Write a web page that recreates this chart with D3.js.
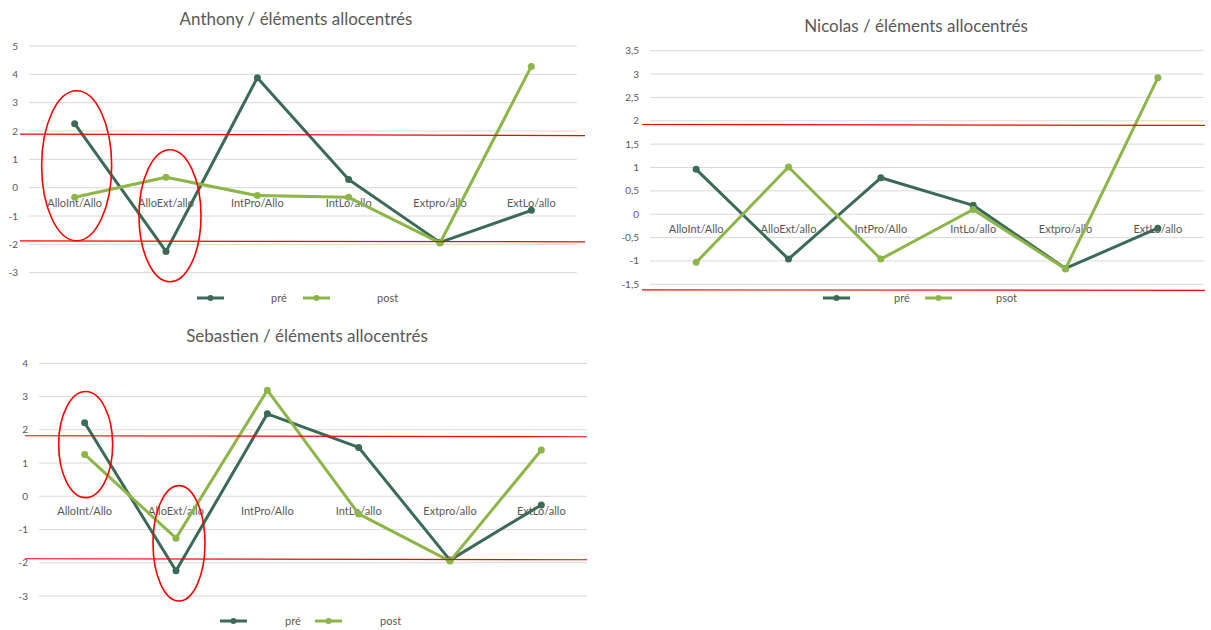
<!DOCTYPE html>
<html>
<head>
<meta charset="utf-8">
<script src="https://cdn.jsdelivr.net/npm/d3@7"></script>
<style>
  body { margin: 0; background: #fff; }
  text { font-family: Lato, "Open Sans", sans-serif; fill: #595959; }
</style>
</head>
<body>
<div id="graph"></div>
<script>
const width = 1211;
const height = 630;

// categories shared by the three charts
const categories = ["AlloInt/Allo", "AlloExt/allo", "IntPro/Allo", "IntLo/allo", "Extpro/allo", "ExtLo/allo"];

const anthonyPre = [2.26, -2.25, 3.88, 0.29, -1.93, -0.8];
const anthonyPost = [-0.34, 0.37, -0.28, -0.34, -1.95, 4.28];
const anthonyTicks = [-3, -2, -1, 0, 1, 2, 3, 4, 5];
const anthonyLegend = ["pré", "post"];
const anthonyRedLines = [[1.89, 1.84], [-1.88, -1.91]];   // hand drawn, left value / right value
const anthonyCircles = [[0, 3.42, -1.87], [1, 1.34, -3.32]]; // category index, top, bottom

const nicolasPre = [0.96, -0.96, 0.78, 0.19, -1.16, -0.3];
const nicolasPost = [-1.03, 1.01, -0.96, 0.1, -1.17, 2.92];
const nicolasTicks = [-1.5, -1, -0.5, 0, 0.5, 1, 1.5, 2, 2.5, 3, 3.5];
const nicolasLegend = ["pré", "psot"];
const nicolasRedLines = [[1.92, 1.90], [-1.62, -1.63]];
const nicolasCircles = [];

const sebastienPre = [2.21, -2.24, 2.48, 1.47, -1.92, -0.26];
const sebastienPost = [1.26, -1.26, 3.19, -0.53, -1.95, 1.39];
const sebastienTicks = [-3, -2, -1, 0, 1, 2, 3, 4];
const sebastienLegend = ["pré", "post"];
const sebastienRedLines = [[1.82, 1.79], [-1.88, -1.91]];
const sebastienCircles = [[0, 3.15, -0.04], [1, 0.32, -3.15]];

const preColor = "#3b6a56";
const postColor = "#8db548";

const svg = d3.select("#graph")
  .append("svg")
  .attr("width", width)
  .attr("height", height)
  .style("background", "#ffffff");

const fmt = v => String(v).replace(".", ",");

function drawChart(c) {
  const g = svg.append("g");

  const x = d3.scaleBand().domain(categories).range([c.x0, c.x1]);
  const y = d3.scaleLinear().domain(d3.extent(c.ticks)).range([c.yBottom, c.yTop]);
  const cx = d => x(d) + x.bandwidth() / 2;

  g.append("text")
    .attr("x", c.titleX)
    .attr("y", c.titleY)
    .attr("text-anchor", "middle")
    .style("font-size", "17px")
    .text(c.title);

  // gridlines + tick labels
  c.ticks.forEach(t => {
    g.append("line")
      .attr("x1", c.x0).attr("x2", c.x1)
      .attr("y1", y(t)).attr("y2", y(t))
      .attr("stroke", "#d9d9d9")
      .attr("stroke-width", 1);
    g.append("text")
      .attr("x", c.x0 - 11)
      .attr("y", y(t))
      .attr("dy", "0.35em")
      .attr("text-anchor", "end")
      .style("font-size", "10px")
      .text(fmt(t));
  });

  // category labels sit on the zero line
  categories.forEach(cat => {
    g.append("text")
      .attr("x", cx(cat))
      .attr("y", y(0) + 15)
      .attr("dy", "0.35em")
      .attr("text-anchor", "middle")
      .style("font-size", "11px")
      .text(cat);
  });

  const line = d3.line()
    .x((d, i) => cx(categories[i]))
    .y(d => y(d));

  [[c.pre, preColor], [c.post, postColor]].forEach(([vals, col]) => {
    g.append("path")
      .attr("d", line(vals))
      .attr("fill", "none")
      .attr("stroke", col)
      .attr("stroke-width", 3)
      .attr("stroke-linejoin", "round");
    g.selectAll(null)
      .data(vals)
      .enter()
      .append("circle")
      .attr("cx", (d, i) => cx(categories[i]))
      .attr("cy", d => y(d))
      .attr("r", 3.5)
      .attr("fill", col);
  });

  // red threshold lines drawn by hand on top
  c.redLines.forEach(([a, b]) => {
    g.append("line")
      .attr("x1", c.redX0).attr("x2", c.redX1)
      .attr("y1", y(a)).attr("y2", y(b))
      .attr("stroke", "#ff0000")
      .attr("stroke-width", 1.2);
  });

  c.circles.forEach(([ci, top, bottom]) => {
    g.append("ellipse")
      .attr("cx", cx(categories[ci]) + c.circleShift[ci])
      .attr("cy", (y(top) + y(bottom)) / 2)
      .attr("rx", c.circleRx[ci])
      .attr("ry", (y(bottom) - y(top)) / 2)
      .attr("fill", "none")
      .attr("stroke", "#ff0000")
      .attr("stroke-width", 1.6);
  });

  // legend
  [[c.legend[0], preColor, c.legX[0]], [c.legend[1], postColor, c.legX[1]]].forEach(([lab, col, lx]) => {
    g.append("line")
      .attr("x1", lx).attr("x2", lx + 27)
      .attr("y1", c.legY).attr("y2", c.legY)
      .attr("stroke", col)
      .attr("stroke-width", 3);
    g.append("circle")
      .attr("cx", lx + 13.5)
      .attr("cy", c.legY)
      .attr("r", 3)
      .attr("fill", col);
    g.append("text")
      .attr("x", lx + c.legText)
      .attr("y", c.legY)
      .attr("dy", "0.35em")
      .style("font-size", "11px")
      .text(lab);
  });
}

drawChart({
  title: "Anthony / éléments allocentrés", titleX: 296, titleY: 25,
  x0: 29, x1: 577, yTop: 46, yBottom: 272.7,
  ticks: anthonyTicks, pre: anthonyPre, post: anthonyPost,
  redLines: anthonyRedLines, redX0: 20, redX1: 585,
  circles: anthonyCircles, circleShift: [2, 4], circleRx: [35, 31],
  legend: anthonyLegend, legX: [197, 303], legText: 74, legY: 298
});

drawChart({
  title: "Nicolas / éléments allocentrés", titleX: 916, titleY: 32,
  x0: 650, x1: 1204, yTop: 50.7, yBottom: 284.3,
  ticks: nicolasTicks, pre: nicolasPre, post: nicolasPost,
  redLines: nicolasRedLines, redX0: 642, redX1: 1205,
  circles: nicolasCircles, circleShift: [], circleRx: [],
  legend: nicolasLegend, legX: [823, 925], legText: 71, legY: 298
});

drawChart({
  title: "Sebastien / éléments allocentrés", titleX: 307, titleY: 342,
  x0: 39, x1: 587, yTop: 363.3, yBottom: 596,
  ticks: sebastienTicks, pre: sebastienPre, post: sebastienPost,
  redLines: sebastienRedLines, redX0: 25, redX1: 587,
  circles: sebastienCircles, circleShift: [1, 3], circleRx: [27, 26],
  legend: sebastienLegend, legX: [220, 315], legText: 65, legY: 621
});
</script>
</body>
</html>
